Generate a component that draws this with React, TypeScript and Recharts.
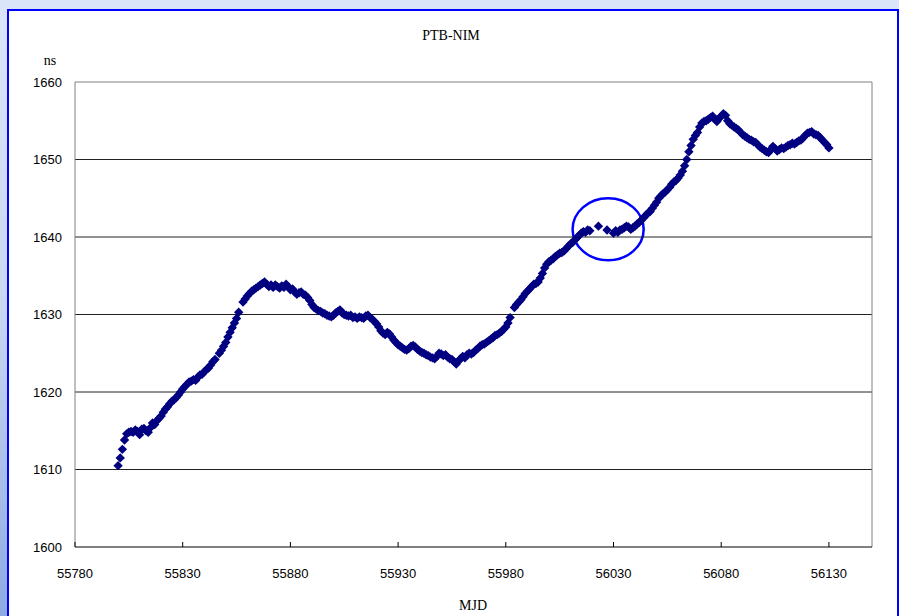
import { ScatterChart, Scatter, XAxis, YAxis, ReferenceLine, ReferenceArea } from 'recharts';

// PTB-NIM time difference, one value per day from MJD 55800 (null = no data)
const startMjd = 55800;
const ptbNimNs = [
  1610.5, 1611.5, 1612.6, 1613.8, 1614.6, 1614.8, 1614.9, 1614.8, 1615.1, 1614.9, // 55800
  1614.5, 1615.2, 1615.3, 1615.0, 1614.8, 1615.4, 1616.0, 1615.8, 1616.3, 1616.6, // 55810
  1616.9, 1617.4, 1617.8, 1618.1, 1618.5, 1618.8, 1619.0, 1619.3, 1619.6, 1620.0, // 55820
  1620.4, 1620.7, 1621.0, 1621.3, 1621.4, 1621.6, 1621.5, 1621.9, 1622.2, 1622.3, // 55830
  1622.6, 1622.9, 1623.1, 1623.5, 1623.9, 1624.2, null, 1625.0, 1625.4, 1625.9, // 55840
  1626.4, 1627.1, 1627.7, 1628.3, 1628.9, 1629.5, 1630.3, null, 1631.6, 1632.0, // 55850
  1632.4, 1632.7, 1633.0, 1633.2, 1633.4, 1633.6, 1633.8, 1634.0, 1634.2, 1633.9, // 55860
  1633.6, 1633.8, 1633.5, 1633.8, 1633.6, 1633.4, 1633.7, 1633.5, 1633.9, 1633.6, // 55870
  1633.2, 1633.3, 1632.9, 1632.6, 1632.8, 1632.9, 1632.6, 1632.5, 1632.2, 1631.8, // 55880
  1631.3, 1630.9, 1630.7, 1630.5, 1630.4, 1630.2, 1630.1, 1629.9, 1629.8, 1629.7, // 55890
  1629.9, 1630.2, 1630.4, 1630.6, 1630.2, 1630.0, 1629.9, 1629.8, 1629.9, 1629.6, // 55900
  1629.7, 1629.5, 1629.7, 1629.6, 1629.5, 1629.8, 1629.9, 1629.6, 1629.4, 1629.1, // 55910
  1628.8, 1628.4, 1627.9, 1627.6, 1627.4, 1627.7, 1627.5, 1627.1, 1626.7, 1626.4, // 55920
  1626.1, 1625.9, 1625.7, 1625.5, 1625.4, 1625.6, 1625.9, 1626.0, 1625.8, 1625.5, // 55930
  1625.3, 1625.1, 1625.0, 1624.8, 1624.7, 1624.5, 1624.4, 1624.3, 1624.6, 1625.0, // 55940
  1624.9, 1624.7, 1624.8, 1624.5, 1624.3, 1624.2, 1623.9, 1623.6, 1624.0, 1624.3, // 55950
  1624.6, 1624.4, 1624.8, 1625.0, 1624.9, 1625.1, 1625.4, 1625.6, 1625.9, 1626.1, // 55960
  1626.2, 1626.4, 1626.6, 1626.8, 1627.0, 1627.3, 1627.4, 1627.6, 1627.8, 1628.1, // 55970
  1628.4, 1628.9, 1629.6, null, 1630.9, 1631.3, 1631.6, 1631.9, 1632.3, 1632.7, // 55980
  1633.0, 1633.3, 1633.6, 1633.9, 1634.0, 1634.2, 1634.7, 1635.3, 1636.0, 1636.5, // 55990
  1636.8, 1637.0, 1637.2, 1637.5, 1637.7, 1637.9, 1638.0, 1638.2, 1638.5, 1638.8, // 56000
  1639.1, 1639.3, 1639.6, 1639.9, 1640.2, 1640.5, 1640.7, 1640.6, 1640.9, 1640.8, // 56010
  null, null, null, 1641.4, null, null, null, 1640.9, null, null, // 56020
  1640.5, 1640.8, 1640.6, 1640.9, 1641.0, 1641.2, 1641.4, 1641.3, 1641.0, 1641.2, // 56030
  1641.4, 1641.7, 1641.9, 1642.2, 1642.5, 1642.8, 1643.1, 1643.3, 1643.7, 1644.1, // 56040
  1644.5, 1645.0, 1645.3, 1645.6, 1645.8, 1646.1, 1646.4, 1646.8, 1647.1, 1647.3, // 56050
  1647.6, 1648.0, 1648.5, 1649.2, 1650.0, 1651.0, 1651.8, 1652.6, 1653.1, 1653.5, // 56060
  1654.2, 1654.7, 1654.9, 1655.0, 1655.2, 1655.4, 1655.6, 1655.2, 1654.9, 1655.3, // 56070
  1655.6, 1655.9, 1655.7, 1655.0, 1654.6, 1654.4, 1654.2, 1654.0, 1653.8, 1653.5, // 56080
  1653.2, 1653.0, 1652.8, 1652.6, 1652.5, 1652.3, 1652.2, 1651.9, 1651.6, 1651.4, // 56090
  1651.2, 1651.0, 1650.9, 1651.3, 1651.7, 1651.4, 1651.1, 1651.3, 1651.5, 1651.4, // 56100
  1651.6, 1651.8, 1651.9, 1652.1, 1652.0, 1652.2, 1652.4, 1652.5, 1652.8, 1653.1, // 56110
  1653.4, 1653.5, 1653.6, 1653.3, 1653.2, 1653.1, 1652.8, 1652.5, 1652.2, 1651.9, // 56120
  1651.5, // 56130
];

const xTicks = [55780, 55830, 55880, 55930, 55980, 56030, 56080, 56130];
const yTicks = [1600, 1610, 1620, 1630, 1640, 1650, 1660];
const gridLines = [1610, 1620, 1630, 1640, 1650];

// hand-drawn ellipse around the flat section
const circleMjd = [56011, 56044];
const circleNs = [1637, 1645];

const points = ptbNimNs
  .map((v, i) => ({ mjd: startMjd + i, ns: v }))
  .filter((p) => p.ns !== null);

const Diamond = (props: any) => {
  const { cx, cy } = props;
  if (cx == null || cy == null) return null;
  const r = 4.7;
  return (
    <polygon
      points={`${cx},${cy - r} ${cx + r},${cy} ${cx},${cy + r} ${cx - r},${cy}`}
      fill="#000080"
    />
  );
};

const XTick = (props: any) => {
  const { x, y, payload } = props;
  return (
    <g>
      <line x1={x} x2={x} y1={y - 26} y2={y - 31} stroke="#000" />
      <text x={x} y={y} textAnchor="middle" dominantBaseline="central" fontSize={13} fill="#000"
        fontFamily="'Liberation Sans', Arial, sans-serif">
        {payload.value}
      </text>
    </g>
  );
};

const Ellipse = (props: any) => {
  const { x, y, width, height } = props;
  return (
    <ellipse cx={x + width / 2} cy={y + height / 2} rx={width / 2} ry={height / 2}
      fill="none" stroke="#0000ff" strokeWidth={2.5} />
  );
};

const label: React.CSSProperties = {
  position: 'absolute',
  fontFamily: "'Liberation Serif', serif",
  fontSize: 14,
  color: '#000',
  lineHeight: '15px',
  transform: 'translate(-50%, -50%)',
  whiteSpace: 'nowrap',
};

export default function App() {
  return (
    <div style={{
      position: 'absolute', left: 0, top: 0, width: 899, height: 616, overflow: 'hidden',
      background: 'linear-gradient(to bottom, #dbe5fa 0%, #c9d7f3 50%, #8eaae2 100%)',
    }}>
      <div style={{
        position: 'absolute', left: 7, top: 9, width: 888, height: 620,
        border: '2px solid #0000ff', background: '#fff',
      }} />
      <div style={{ position: 'absolute', left: 0, top: 0 }}>
        <ScatterChart width={899} height={616} margin={{ top: 82, right: 27, bottom: 39, left: 25 }}>
          {gridLines.map((v) => (
            <ReferenceLine key={v} y={v} stroke="#222" strokeWidth={1} />
          ))}
          <ReferenceLine y={1660} stroke="#808080" />
          <ReferenceLine x={56150} stroke="#808080" />
          <XAxis
            type="number"
            dataKey="mjd"
            domain={[55780, 56150]}
            ticks={xTicks}
            allowDataOverflow
            height={30}
            tickSize={0}
            tickMargin={26}
            tick={<XTick />}
            axisLine={{ stroke: '#000' }}
          />
          <YAxis
            type="number"
            dataKey="ns"
            domain={[1600, 1660]}
            ticks={yTicks}
            allowDataOverflow
            width={50}
            tickSize={0}
            tickMargin={13}
            tickLine={false}
            axisLine={{ stroke: '#808080' }}
            tick={{ fontSize: 13, fill: '#000', fontFamily: "'Liberation Sans', Arial, sans-serif" }}
          />
          <Scatter data={points} shape={<Diamond />} isAnimationActive={false} />
          <ReferenceArea
            x1={circleMjd[0]}
            x2={circleMjd[1]}
            y1={circleNs[0]}
            y2={circleNs[1]}
            shape={<Ellipse />}
          />
        </ScatterChart>
      </div>
      <div style={{ ...label, left: 451, top: 35 }}>PTB-NIM</div>
      <div style={{ ...label, left: 50, top: 60 }}>ns</div>
      <div style={{ ...label, left: 473, top: 605 }}>MJD</div>
    </div>
  );
}
